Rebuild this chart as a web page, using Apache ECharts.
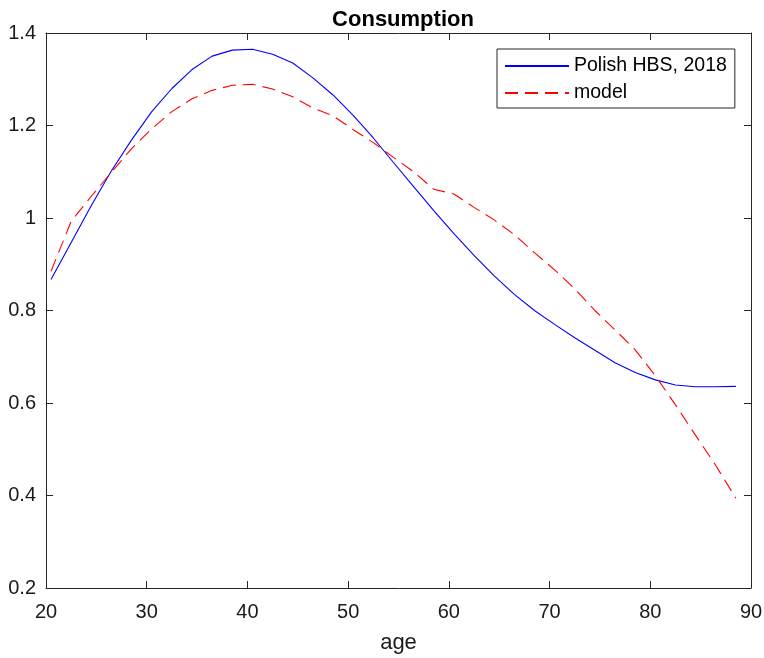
<!DOCTYPE html>
<html>
<head>
<meta charset="utf-8">
<script src="https://cdn.jsdelivr.net/npm/echarts@6/dist/echarts.min.js"></script>
<style>
  html, body { margin: 0; padding: 0; background: #fff; }
  #chart { width: 764px; height: 658px; }
</style>
</head>
<body>
<div id="chart"></div>
<script>
const ages = [20.5, 22.5, 24.5, 26.5, 28.5, 30.5, 32.5, 34.5, 36.5, 38.5, 40.5, 42.5,
  44.5, 46.5, 48.5, 50.5, 52.5, 54.5, 56.5, 58.5, 60.5, 62.5, 64.5, 66.5, 68.5,
  70.5, 72.5, 74.5, 76.5, 78.5, 80.5, 82.5, 84.5, 86.5, 88.5];

const hbs = [0.867, 0.947, 1.027, 1.102, 1.169, 1.230, 1.280, 1.321, 1.350, 1.363,
  1.365, 1.354, 1.335, 1.303, 1.266, 1.222, 1.173, 1.120, 1.068, 1.016, 0.966,
  0.919, 0.875, 0.835, 0.800, 0.770, 0.741, 0.714, 0.687, 0.666, 0.650, 0.639,
  0.635, 0.635, 0.636];

const model = [0.885, 0.993, 1.047, 1.099, 1.150, 1.193, 1.230, 1.258, 1.276, 1.287,
  1.289, 1.279, 1.262, 1.238, 1.221, 1.191, 1.163, 1.131, 1.100, 1.062, 1.052,
  1.023, 0.996, 0.964, 0.925, 0.888, 0.847, 0.800, 0.758, 0.715, 0.659, 0.596,
  0.530, 0.465, 0.394];

const xTicks = [20, 30, 40, 50, 60, 70, 80, 90];
const yTicks = [0.2, 0.4, 0.6, 0.8, 1, 1.2, 1.4];

const font = '"Liberation Sans", Arial, Helvetica, sans-serif';
const axisColor = '#262626';

const pair = (xs, ys) => xs.map((x, i) => [x, ys[i]]);

const chart = echarts.init(document.getElementById('chart'));

// MATLAB-like box: ticks inside on all four sides
const boxAxis = (pos, isX, show) => ({
  type: 'value',
  position: pos,
  min: isX ? xTicks[0] : yTicks[0],
  max: isX ? xTicks[xTicks.length - 1] : yTicks[yTicks.length - 1],
  interval: isX ? 10 : 0.2,
  axisLine: { show: true, onZero: false, lineStyle: { color: axisColor, width: 1 } },
  axisTick: { show: true, inside: true, length: 7, lineStyle: { color: axisColor, width: 1 } },
  splitLine: { show: false },
  axisLabel: {
    show: show,
    color: '#1a1a1a',
    fontFamily: font,
    fontSize: 20,
    margin: isX ? 14 : 10,
  },
});

chart.setOption({
  animation: false,
  backgroundColor: '#fff',
  title: {
    text: 'Consumption',
    left: 398,
    textAlign: 'center',
    top: 4,
    textStyle: { fontFamily: font, fontSize: 22, fontWeight: 'bold', color: '#000' },
  },
  grid: { left: 46, right: 13, top: 33, bottom: 70, containLabel: false, outerBoundsMode: 'none' },
  legend: {
    orient: 'vertical',
    left: 497,
    top: 49,
    padding: [7, 8, 5, 7],
    itemWidth: 64,
    itemHeight: 20,
    itemGap: 7,
    backgroundColor: '#fff',
    borderColor: axisColor,
    borderWidth: 1,
    borderRadius: 0,
    itemStyle: { opacity: 0 },
    textStyle: { fontFamily: font, fontSize: 19.5, color: '#000' },
    data: ['Polish HBS, 2018', 'model'],
  },
  xAxis: [
    Object.assign(boxAxis('bottom', true, true), {
      name: 'age',
      nameLocation: 'middle',
      nameGap: 44,
      nameTextStyle: { fontFamily: font, fontSize: 22, color: '#1a1a1a' },
    }),
    boxAxis('top', true, false),
  ],
  yAxis: [
    Object.assign(boxAxis('left', false, true), {
      axisLabel: {
        color: '#1a1a1a',
        fontFamily: font,
        fontSize: 20,
        margin: 10,
        formatter: (v) => String(Math.round(v * 10) / 10),
      },
    }),
    boxAxis('right', false, false),
  ],
  series: [
    {
      name: 'Polish HBS, 2018',
      type: 'line',
      data: pair(ages, hbs),
      symbol: 'none',
      lineStyle: { color: '#0000ff', width: 1.1 },
      itemStyle: { color: '#0000ff' },
    },
    {
      name: 'model',
      type: 'line',
      data: pair(ages, model),
      symbol: 'none',
      lineStyle: { color: '#ff0000', width: 1.1, type: [13, 7] },
      itemStyle: { color: '#ff0000' },
    },
  ],
});
</script>
</body>
</html>
